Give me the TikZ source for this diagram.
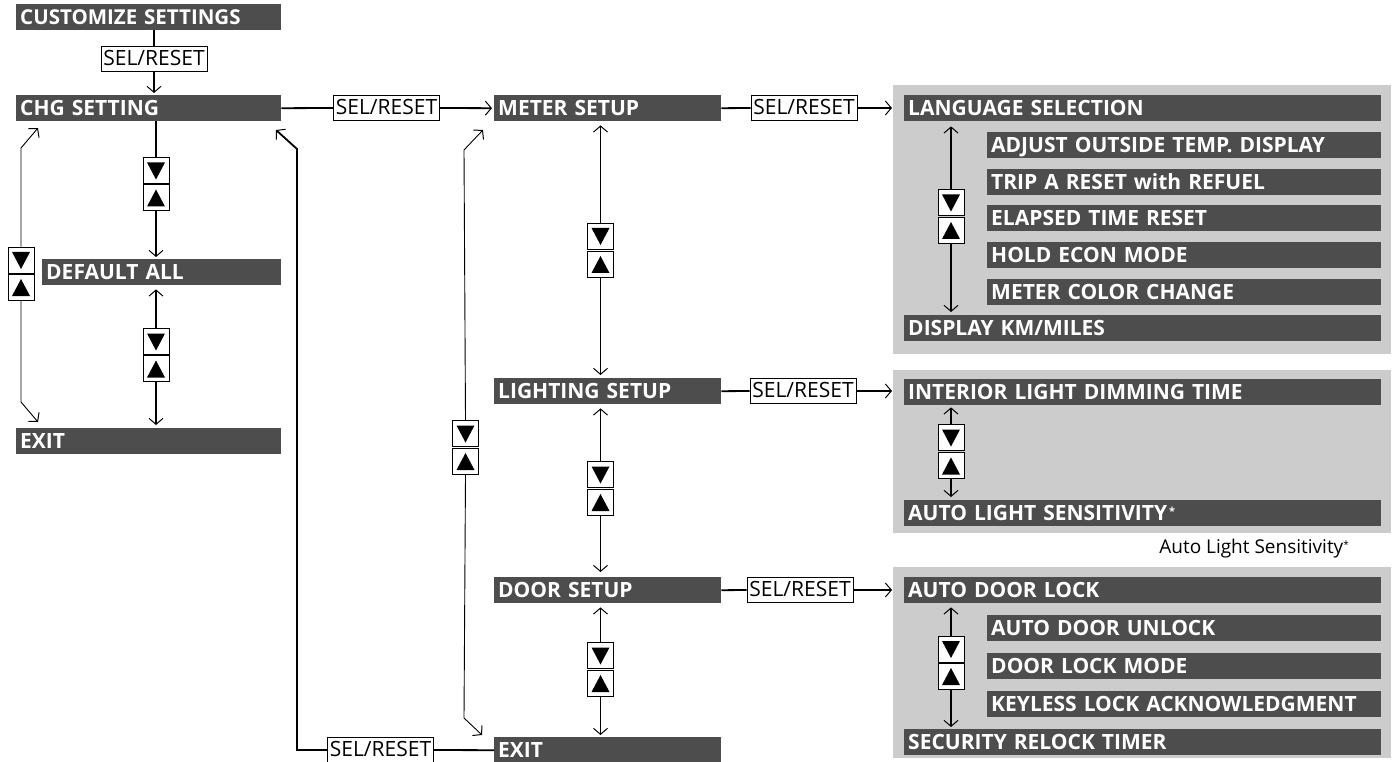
\documentclass[tikz,border=0pt]{standalone}
\usepackage{fontspec}
\setmainfont{Open Sans}
\usetikzlibrary{arrows.meta}
\definecolor{barcol}{RGB}{77,77,77}
\definecolor{panelcol}{RGB}{204,204,204}
\newcommand\mybarfont{\fontsize{21}{24}\selectfont\bfseries}
\newcommand\mysmallbarfont{\fontsize{20.5}{24}\selectfont\bfseries}
\newcommand\myselfont{\fontsize{21}{24}\selectfont}
\newcommand\mynotefont{\fontsize{19}{22}\selectfont}
\tikzset{
  bar/.style={fill=barcol, text=white, font=\mybarfont, anchor=north west,
    inner xsep=4pt, inner ysep=0pt, minimum height=26pt, text height=15pt,
    text depth=0pt, align=left},
  panel/.style={fill=panelcol, anchor=north west, inner sep=0pt},
  selbox/.style={draw, fill=white, line width=0.8pt, font=\myselfont,
    minimum width=106pt, minimum height=25pt, inner sep=0pt, text height=15pt, text depth=2pt},
  dnbox/.style={draw, fill=white, line width=0.8pt, minimum size=26pt, inner sep=0pt,
    path picture={\fill[black] ([xshift=-9pt,yshift=8pt]path picture bounding box.center)
      -- ++(18pt,0pt) -- ++(-9pt,-17pt) -- cycle;}},
  upbox/.style={draw, fill=white, line width=0.8pt, minimum size=26pt, inner sep=0pt,
    path picture={\fill[black] ([xshift=-9pt,yshift=-9pt]path picture bounding box.center)
      -- ++(18pt,0pt) -- ++(-9pt,17pt) -- cycle;}},
  thk/.style={line width=1.8pt},
  thn/.style={line width=0.9pt},
  mid/.style={line width=1.2pt},
  tip/.style={-{Straight Barb[length=6pt,width=14pt,line width=1pt]}},
}
\begin{document}
\begin{tikzpicture}[x=1pt,y=-1pt]
\useasboundingbox (0,0) rectangle (1398,762);
% panels
\node[panel, minimum width=498pt, minimum height=269pt] (p1) at (893,85) {};
\node[panel, minimum width=498pt, minimum height=163pt] (p2) at (893,370) {};
\node[panel, minimum width=498pt, minimum height=191pt] (p3) at (893,567) {};
% left column bars
\node[bar, font=\mysmallbarfont, text width=257pt] (cust) at (16,4) {CUSTOMIZE SETTINGS};
\node[bar, text width=257pt] (chg) at (16,95) {CHG SETTING};
\node[bar, text width=231pt] (def) at (42,259) {DEFAULT ALL};
\node[bar, text width=257pt] (ex1) at (16,428) {EXIT};
% middle column bars
\node[bar, text width=219pt] (meter) at (494,95) {METER SETUP};
\node[bar, text width=219pt] (light) at (494,378) {LIGHTING SETUP};
\node[bar, text width=219pt] (door) at (494,577) {DOOR SETUP};
\node[bar, text width=219pt] (ex2) at (494,737) {EXIT};
% meter panel
\node[bar, text width=469pt] (lang) at (904,95) {LANGUAGE SELECTION};
\node[bar, text width=386pt] (adj) at (987,132) {ADJUST OUTSIDE TEMP. DISPLAY};
\node[bar, text width=386pt] (trip) at (987,169) {TRIP A RESET with REFUEL};
\node[bar, text width=386pt] (elap) at (987,205) {ELAPSED TIME RESET};
\node[bar, text width=386pt] (hold) at (987,242) {HOLD ECON MODE};
\node[bar, text width=386pt] (mcol) at (987,279) {METER COLOR CHANGE};
\node[bar, text width=469pt] (disp) at (904,315) {DISPLAY KM/MILES};
% lighting panel
\node[bar, text width=469pt] (intl) at (904,379) {INTERIOR LIGHT DIMMING TIME};
\node[bar, text width=469pt] (als) at (904,500) {AUTO LIGHT SENSITIVITY\raisebox{5pt}{\fontsize{11}{11}\selectfont\,*}};
\node[font=\mynotefont, anchor=east, inner sep=0pt] (note) at (1349,549) {Auto Light Sensitivity\raisebox{5pt}{\fontsize{10}{10}\selectfont*}};
% door panel
\node[bar, text width=469pt] (adl) at (904,577) {AUTO DOOR LOCK};
\node[bar, text width=386pt] (adu) at (987,615) {AUTO DOOR UNLOCK};
\node[bar, text width=386pt] (dlm) at (987,653) {DOOR LOCK MODE};
\node[bar, text width=386pt] (kla) at (987,691) {KEYLESS LOCK ACKNOWLEDGMENT};
\node[bar, text width=469pt] (srt) at (904,729) {SECURITY RELOCK TIMER};
% SEL/RESET boxes
\node[selbox] (s0) at (154,59) {SEL/RESET};
\node[selbox] (s1) at (386.5,108) {SEL/RESET};
\node[selbox] (s2) at (804,108) {SEL/RESET};
\node[selbox] (s3) at (803,391) {SEL/RESET};
\node[selbox] (s4) at (800,590) {SEL/RESET};
\node[selbox] (s5) at (380.5,750) {SEL/RESET};
% up/down boxes
\node[dnbox] (d1) at (156,170.5) {}; \node[upbox] (u1) at (156,197.5) {};
\node[dnbox] (d2) at (156,341.5) {}; \node[upbox] (u2) at (156,368.5) {};
\node[dnbox] (d3) at (21,260) {};    \node[upbox] (u3) at (21,287) {};
\node[dnbox] (d4) at (600.5,236) {}; \node[upbox] (u4) at (600.5,264) {};
\node[dnbox] (d5) at (600.5,474.5) {}; \node[upbox] (u5) at (600.5,502) {};
\node[dnbox] (d6) at (600.5,655.5) {}; \node[upbox] (u6) at (600.5,683) {};
\node[dnbox] (d7) at (465.5,433.5) {}; \node[upbox] (u7) at (465.5,461) {};
\node[dnbox] (d8) at (951,202.5) {}; \node[upbox] (u8) at (951,230) {};
\node[dnbox] (d9) at (951,437.5) {}; \node[upbox] (u9) at (951,465.5) {};
\node[dnbox] (d10) at (951,649) {}; \node[upbox] (u10) at (951,676) {};
% free-end coordinates
\coordinate (a1) at (21,148); \coordinate (a1t) at (38,128);
\coordinate (a2) at (21,402); \coordinate (a2t) at (38,422);
\coordinate (r1) at (297,750); \coordinate (r2) at (297,149); \coordinate (r2t) at (276,130);
\coordinate (t1) at (464,150); \coordinate (t1t) at (483,130);
\coordinate (t2) at (464,718); \coordinate (t2t) at (482,735);
% left column
\draw[thk] (cust.south -| s0) -- (s0.north);
\draw[thk,tip,shorten >=2pt] (s0.south) -- (s0.south |- chg.north);
\draw[thk] (chg.south -| d1) -- (d1.north);
\draw[thk,tip,shorten >=2pt] (u1.south) -- (u1.south |- def.north);
\draw[thk,tip,shorten >=4pt] (d2.north) -- (d2.north |- def.south);
\draw[thk,tip,shorten >=3pt] (u2.south) -- (u2.south |- ex1.north);
\draw[thn,tip] (d3.north) -- (a1) -- (a1t);
\draw[thn,tip] (u3.south) -- (a2) -- (a2t);
% horizontal
\draw[thk] (chg.east) -- (s1.west);
\draw[thk,tip,shorten >=2pt] (s1.east) -- (meter.west);
\draw[thk] (meter.east) -- (s2.west);
\draw[thk,tip,shorten >=1pt] (s2.east) -- (s2.east -| p1.west);
\draw[thk] (light.east) -- (s3.west);
\draw[thk,tip,shorten >=1pt] (s3.east) -- (s3.east -| p1.west);
\draw[thk] (door.east) -- (s4.west);
\draw[thk,tip,shorten >=1pt] (s4.east) -- (s4.east -| p1.west);
% return from exit
\draw[thk] (ex2.west) -- (s5.east);
\draw[thk,tip] (s5.west) -- (r1) -- (r2) -- (r2t);
\draw[thn,tip] (d7.north) -- (t1) -- (t1t);
\draw[thn,tip] (u7.south) -- (t2) -- (t2t);
% middle column
\draw[thk,tip,shorten >=4pt] (d4.north) -- (d4.north |- meter.south);
\draw[thk,tip,shorten >=3pt] (u4.south) -- (u4.south |- light.north);
\draw[thn,tip,shorten >=4pt] (d5.north) -- (d5.north |- light.south);
\draw[thk,tip,shorten >=5pt] (u5.south) -- (u5.south |- door.north);
\draw[thk,tip,shorten >=4pt] (d6.north) -- (d6.north |- door.south);
\draw[thk,tip,shorten >=2pt] (u6.south) -- (u6.south |- ex2.north);
% panel arrows
\draw[mid,tip,shorten >=5pt] (d8.north) -- (d8.north |- lang.south);
\draw[mid,tip,shorten >=3pt] (u8.south) -- (u8.south |- disp.north);
\draw[mid,tip,shorten >=2pt] (d9.north) -- (d9.north |- intl.south);
\draw[mid,tip,shorten >=3pt] (u9.south) -- (u9.south |- als.north);
\draw[mid,tip,shorten >=4pt] (d10.north) -- (d10.north |- adl.south);
\draw[mid,tip,shorten >=2pt] (u10.south) -- (u10.south |- srt.north);
\end{tikzpicture}
\end{document}
